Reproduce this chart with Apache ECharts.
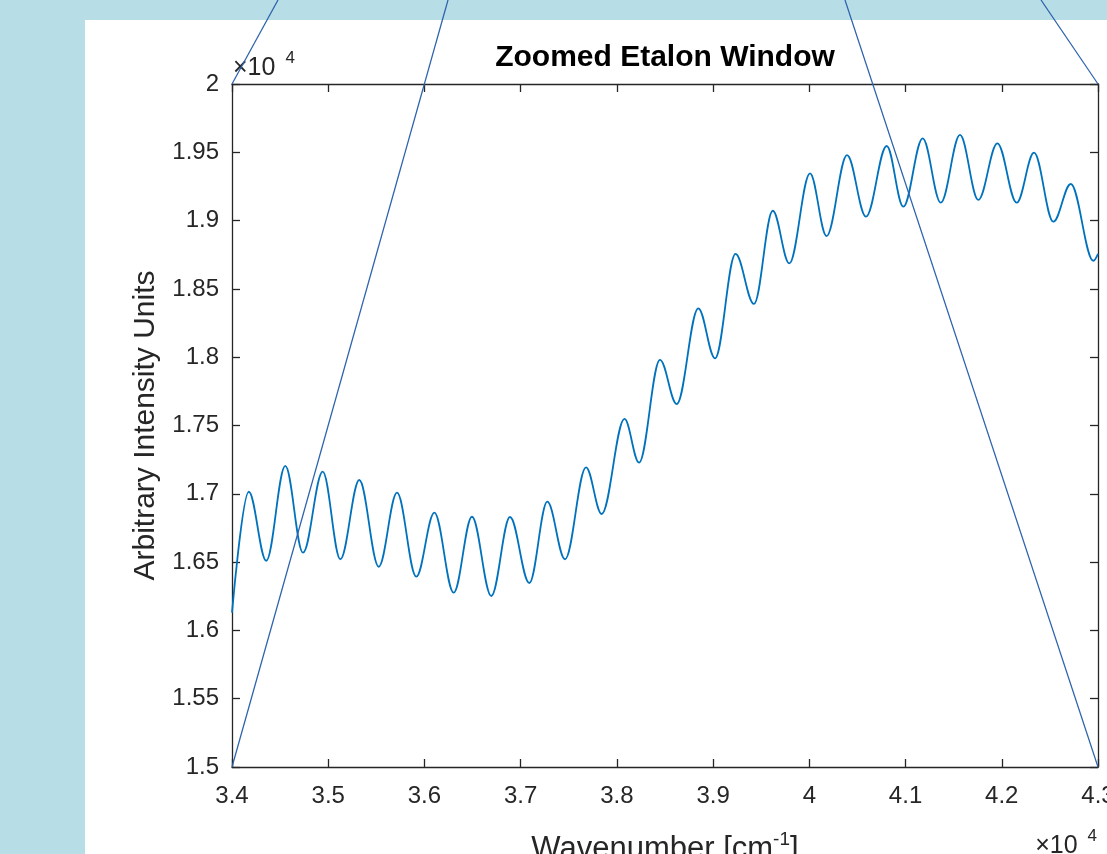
<!DOCTYPE html>
<html><head><meta charset="utf-8">
<script src="https://cdn.jsdelivr.net/npm/echarts@6/dist/echarts.min.js"></script>
<style>
html,body{margin:0;padding:0;background:#b7dde6;width:1107px;height:854px;overflow:hidden}
#panel{position:absolute;left:85px;top:20px;width:1022px;height:834px;background:#ffffff}
#chart{position:absolute;left:0;top:0;width:1107px;height:854px}
</style></head><body>
<div id="panel"></div><div id="chart"></div>
<script>
// Wavenumber [cm^-1] at read-off peaks / troughs of the etalon fringes
const wavenumber = [34000, 34174, 34356, 34554, 34738, 34943, 35126, 35323, 35525, 35715,
  35915, 36103, 36304, 36494, 36695, 36889, 37090, 37277, 37461, 37679,
  37842, 38079, 38230, 38448, 38622, 38846, 39020, 39233, 39425, 39620,
  39792, 40007, 40179, 40392, 40589, 40804, 40977, 41178, 41366, 41566,
  41756, 41954, 42155, 42335, 42536, 42717, 42952, 43000];
// Arbitrary intensity units
const intensity = [16130, 17015, 16510, 17204, 16569, 17162, 16521, 17101, 16466, 17008,
  16393, 16862, 16276, 16832, 16252, 16830, 16347, 16942, 16521, 17194,
  16852, 17548, 17228, 17980, 17657, 18358, 17992, 18756, 18390, 19072,
  18687, 19346, 18887, 19480, 19029, 19546, 19102, 19602, 19131, 19627,
  19151, 19566, 19131, 19497, 18992, 19268, 18706, 18756];
const xTickValues = [34000, 35000, 36000, 37000, 38000, 39000, 40000, 41000, 42000, 43000];
const xTickLabels = ['3.4', '3.5', '3.6', '3.7', '3.8', '3.9', '4', '4.1', '4.2', '4.3'];
const yTickValues = [15000, 15500, 16000, 16500, 17000, 17500, 18000, 18500, 19000, 19500, 20000];
const yTickLabels = ['1.5', '1.55', '1.6', '1.65', '1.7', '1.75', '1.8', '1.85', '1.9', '1.95', '2'];
const titleText = 'Zoomed Etalon Window';
const xName = 'Wavenumber [cm{sup|-1}]';
const yName = 'Arbitrary Intensity Units';

const FONT = "'Liberation Sans', Arial, Helvetica, sans-serif";
const AX = '#262626';
const X_MIN = xTickValues[0], X_MAX = xTickValues[xTickValues.length - 1];
const Y_MIN = yTickValues[0], Y_MAX = yTickValues[yTickValues.length - 1];

function lab(values, labels) {
  return function (v) { const i = values.indexOf(Math.round(v)); return i >= 0 ? labels[i] : ''; };
}
const lineCommon = { show: true, onZero: false, lineStyle: { color: AX, width: 1.3 } };
const tickCommon = { show: true, inside: true, length: 8, lineStyle: { color: AX, width: 1.3 } };

const chart = echarts.init(document.getElementById('chart'), null, { renderer: 'canvas' });
const option = {
  animation: false,
  backgroundColor: 'transparent',
  grid: { left: 232, right: 9, top: 84, bottom: 87, containLabel: false, outerBoundsMode: 'none' },
  xAxis: [
    {
      type: 'value', position: 'bottom', min: X_MIN, max: X_MAX, interval: 1000,
      axisLine: lineCommon, axisTick: tickCommon, splitLine: { show: false },
      axisLabel: { formatter: lab(xTickValues, xTickLabels), fontSize: 24, color: AX, fontFamily: FONT, margin: 17, showMinLabel: true, showMaxLabel: true },
      name: xName, nameLocation: 'middle', nameGap: 63,
      nameTextStyle: { fontSize: 31, color: AX, fontFamily: FONT, lineHeight: 38,
        rich: { sup: { fontSize: 19, color: AX, fontFamily: FONT, verticalAlign: 'top', lineHeight: 22 } } }
    },
    {
      type: 'value', position: 'top', min: X_MIN, max: X_MAX, interval: 1000,
      axisLine: lineCommon, axisTick: tickCommon, splitLine: { show: false }, axisLabel: { show: false }
    }
  ],
  yAxis: [
    {
      type: 'value', position: 'left', min: Y_MIN, max: Y_MAX, interval: 500,
      axisLine: lineCommon, axisTick: tickCommon, splitLine: { show: false },
      axisLabel: { formatter: lab(yTickValues, yTickLabels), fontSize: 24, color: AX, fontFamily: FONT, margin: 13, showMinLabel: true, showMaxLabel: true },
      name: yName, nameLocation: 'middle', nameGap: 71,
      nameTextStyle: { fontSize: 30, color: AX, fontFamily: FONT }
    },
    {
      type: 'value', position: 'right', min: Y_MIN, max: Y_MAX, interval: 500,
      axisLine: lineCommon, axisTick: tickCommon, splitLine: { show: false }, axisLabel: { show: false }
    }
  ],
  series: [{
    type: 'line', xAxisIndex: 0, yAxisIndex: 0,
    data: wavenumber.map((x, i) => [x, intensity[i]]),
    showSymbol: false, symbol: 'none', smooth: 0.36, smoothMonotone: 'x', clip: true,
    lineStyle: { color: '#0072BD', width: 1.8 }
  }]
};
chart.setOption(option);

// zoom connector lines: from the plot corners to the parent view (above the figure)
const cTL = chart.convertToPixel({ gridIndex: 0 }, [X_MIN, Y_MAX]);
const cBL = chart.convertToPixel({ gridIndex: 0 }, [X_MIN, Y_MIN]);
const cBR = chart.convertToPixel({ gridIndex: 0 }, [X_MAX, Y_MIN]);
const cTR = chart.convertToPixel({ gridIndex: 0 }, [X_MAX, Y_MAX]);
const connColor = '#2d62ad';
function conn(p, tx) {
  return { type: 'line', z: 100, silent: true,
    shape: { x1: p[0], y1: p[1], x2: tx, y2: 0 },
    style: { stroke: connColor, lineWidth: 1.25 } };
}
const midX = (cTL[0] + cTR[0]) / 2;
const expRich = {
  a: { fontSize: 25, fill: AX, fontFamily: FONT, lineHeight: 36 },
  g: { fontSize: 25, fill: AX, fontFamily: FONT, lineHeight: 36, width: 10 },
  b: { fontSize: 17, fill: AX, fontFamily: FONT, verticalAlign: 'top', lineHeight: 18 }
};
chart.setOption({
  graphic: [
    conn(cTL, 278), conn(cBL, 448), conn(cBR, 845), conn(cTR, 1041),
    { type: 'text', z: 50, x: midX, y: 58,
      style: { text: titleText, align: 'center', verticalAlign: 'middle', fill: '#000', font: 'bold 30px ' + FONT } },
    { type: 'text', z: 50, x: cTL[0] + 1, y: cTL[1] + 2,
      style: { text: '{a|\u00d710}{g| }{b|4}', align: 'left', verticalAlign: 'bottom', rich: expRich } },
    { type: 'text', z: 50, x: cBR[0] - 1, y: 864,
      style: { text: '{a|\u00d710}{g| }{b|4}', align: 'right', verticalAlign: 'bottom', rich: expRich } }
  ]
});
</script>
</body></html>
